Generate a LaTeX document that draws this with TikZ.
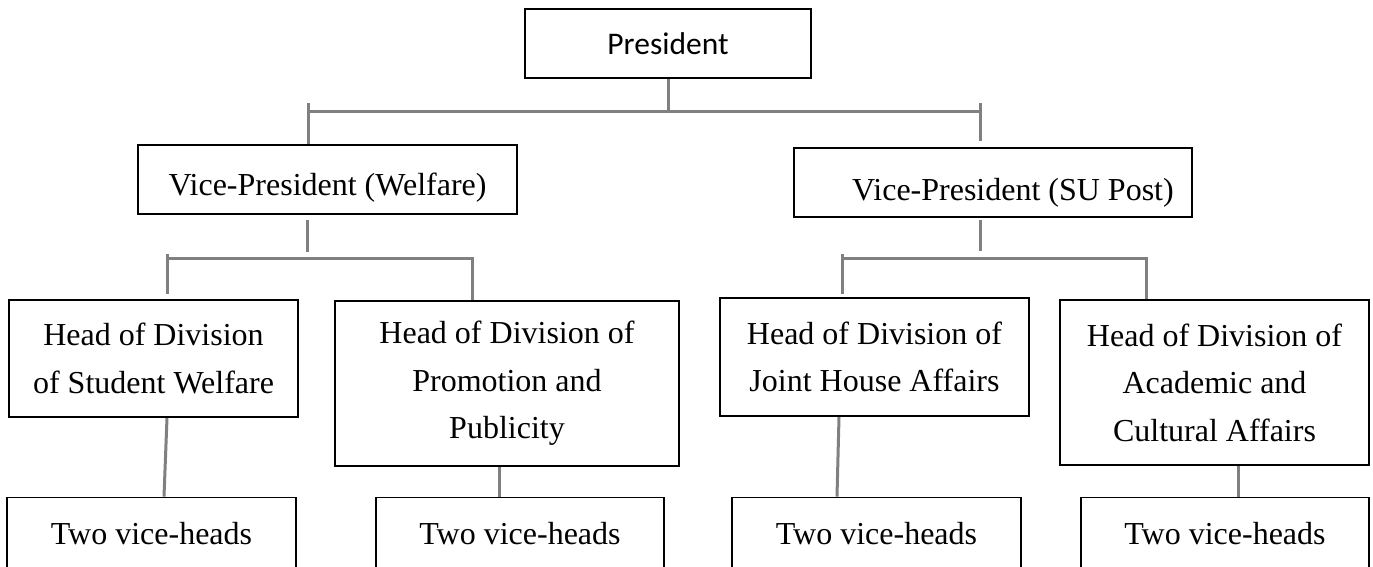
\documentclass[tikz,border=0pt]{standalone}
\usepackage{fontspec}
\setmainfont{Liberation Serif}
\newfontfamily\calibri{Carlito}
\usetikzlibrary{backgrounds,calc}
\definecolor{linegray}{RGB}{128,128,128}
\begin{document}
\begin{tikzpicture}[x=1pt,y=-1pt,
  box/.style={draw=black, line width=1.8pt, fill=white, inner sep=0pt, align=center,
              font=\fontsize{32}{47.5}\selectfont},
  link/.style={draw=linegray, line width=3pt}]
\useasboundingbox (0,0) rectangle (1373,566);
\clip (0,0) rectangle (1373,566);
% level 0
\node[box, minimum width=286pt, minimum height=69pt, font=\calibri\fontsize{31.5}{37}\selectfont] (pres) at (668,43.5) {President};
% level 1
\node[box, minimum width=379pt, minimum height=69pt] (vpw) at (327.5,179.5)
  {\raisebox{-8pt}[\height][\depth]{Vice-President (Welfare)}};
\node[box, minimum width=398pt, minimum height=69pt] (vpsu) at (993,182.5)
  {\hspace*{40pt}\raisebox{-10pt}[\height][\depth]{Vice-President (SU Post)}};
% level 2
\node[box, minimum width=289pt, minimum height=117pt] (h1) at (153.5,358.5) {Head of Division\\of Student Welfare};
\node[box, minimum width=344pt, minimum height=165pt] (h2) at (507,383.5) {Head of Division of\\Promotion and\\Publicity};
\node[box, minimum width=309pt, minimum height=118pt] (h3) at (874.5,357) {Head of Division of\\Joint House Affairs};
\node[box, minimum width=309pt, minimum height=165pt] (h4) at (1214.5,382.5) {Head of Division of\\Academic and\\Cultural Affairs};
% level 3
\node[box, minimum width=289pt, minimum height=73pt] (v1) at (151.5,534) {Two vice-heads};
\node[box, minimum width=288pt, minimum height=73pt] (v2) at (520,534) {Two vice-heads};
\node[box, minimum width=289pt, minimum height=73pt] (v3) at (876.5,534) {Two vice-heads};
\node[box, minimum width=288pt, minimum height=73pt] (v4) at (1225,534) {Two vice-heads};
% connector points
\coordinate (bus0) at (668,111);
\coordinate (t1L) at (308,103);
\coordinate (t1R) at (980,103);
\coordinate (wv) at (307,220);
\coordinate (wL) at (167,258);
\coordinate (wR) at (472,258);
\coordinate (sv) at (980,220);
\coordinate (sL) at (842,258);
\coordinate (sR) at (1146,258);
\coordinate (c1) at (164,0);
\coordinate (c2) at (499,0);
\coordinate (c3a) at (839,0);
\coordinate (c3b) at (837,0);
\coordinate (c4) at (1238,0);
\begin{scope}[on background layer]
\draw[link] (pres.south) -- (bus0);
\draw[link] (t1L |- bus0) -- (t1R |- bus0);
\draw[link] (t1L) -- (t1L |- vpw.north);
\draw[link] (t1R) -- ([yshift=6pt]t1R |- vpsu.north);
\draw[link] (wv) -- ([yshift=6pt]wv |- wL);
\draw[link] (wL) -- (wR) -- (wR |- h2.north);
\draw[link] ([yshift=4pt]wL) -- ([yshift=5pt]wL |- h1.north);
\draw[link] (sv) -- ([yshift=7pt]sv |- sL);
\draw[link] (sL) -- (sR) -- (sR |- h4.north);
\draw[link] ([yshift=4pt]sL) -- ([yshift=3pt]sL |- h3.north);
\draw[link] (wL |- h1.south) -- (c1 |- v1.north);
\draw[link] (c2 |- h2.south) -- (c2 |- v2.north);
\draw[link] (c3a |- h3.south) -- (c3b |- v3.north);
\draw[link] (c4 |- h4.south) -- (c4 |- v4.north);
\end{scope}
\end{tikzpicture}
\end{document}
